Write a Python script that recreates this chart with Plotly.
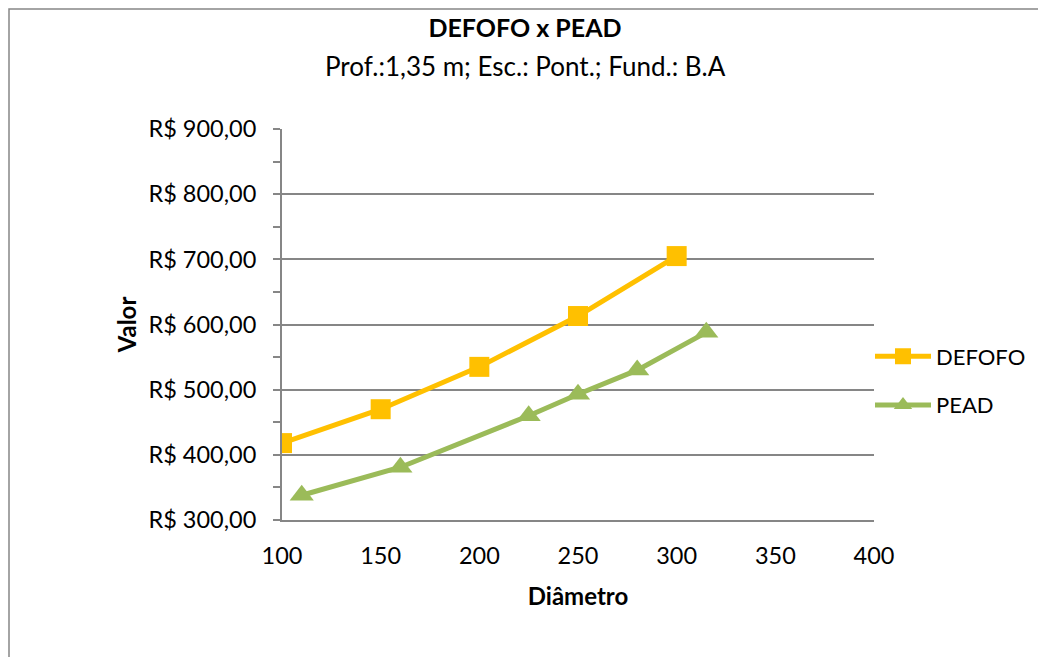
import plotly.graph_objects as go

defofo_x = [100, 150, 200, 250, 300]
defofo_y = [418, 470, 535, 613, 705]
pead_x = [110, 160, 225, 250, 280, 315]
pead_y = [338, 381, 460, 493, 530, 588]

y_tickvals = [300, 400, 500, 600, 700, 800, 900]
y_ticktext = ["R$ 300,00", "R$ 400,00", "R$ 500,00", "R$ 600,00",
              "R$ 700,00", "R$ 800,00", "R$ 900,00"]
x_tickvals = [100, 150, 200, 250, 300, 350, 400]

title_text = "DEFOFO x PEAD"
subtitle_text = "Prof.:1,35 m; Esc.: Pont.; Fund.: B.A"

FONT = "Lato"
GRAY = "#868686"
OFF = 8  # page body offset

fig = go.Figure()
fig.add_trace(go.Scatter(
    x=defofo_x, y=defofo_y, name="DEFOFO", mode="lines+markers",
    line=dict(color="#FFC000", width=5),
    marker=dict(symbol="square", size=20, color="#FFC000"),
    legendgroup="a",
))
fig.add_trace(go.Scatter(
    x=pead_x, y=pead_y, name="PEAD", mode="lines+markers",
    line=dict(color="#9BBB59", width=5),
    marker=dict(symbol="triangle-up", size=21, color="#9BBB59"),
    legendgroup="b",
))

W, H = 1038, 649
L, T = 282 - OFF, 129 - OFF
R = W - (874 - OFF)
B = H - (520 - OFF)
pw = W - L - R
ph = H - T - B

def px_x(p):
    return (p - OFF - L) / pw

def px_y(p):
    return (H - B - (p - OFF)) / ph

fig.update_layout(
    width=W, height=H,
    margin=dict(l=L, r=R, t=T, b=B, autoexpand=False),
    paper_bgcolor="white", plot_bgcolor="white",
    font=dict(family=FONT, size=23.5, color="black"),
    title=dict(
        text="<b>" + title_text + "</b>",
        font=dict(size=25),
        x=(525 - OFF) / W, xanchor="center", xref="container",
        y=1 - (28 - OFF) / H, yanchor="middle", yref="container",
    ),
    annotations=[dict(
        text=subtitle_text, xref="paper", yref="paper",
        x=px_x(525), xanchor="center", y=px_y(66), yanchor="middle",
        showarrow=False, font=dict(size=26),
    )],
    xaxis=dict(
        range=[100, 400], tickvals=x_tickvals, ticks="", showgrid=False,
        showline=True, linecolor=GRAY, linewidth=2, zeroline=False,
        ticklabelstandoff=14,
        title=dict(text="<b>Diâmetro</b>", font=dict(size=24), standoff=20),
        automargin=False,
    ),
    yaxis=dict(
        range=[300, 900], tickvals=y_tickvals, ticktext=y_ticktext,
        ticks="outside", ticklen=7, tickcolor=GRAY, tickwidth=2,
        showgrid=True, gridcolor=GRAY, gridwidth=1.5,
        showline=True, linecolor=GRAY, linewidth=2, zeroline=False,
        ticklabelstandoff=12,
        minor=dict(tickvals=[350, 450, 550, 650, 750, 850], ticks="outside",
                   ticklen=7, tickcolor=GRAY, tickwidth=2, showgrid=False),
        title=dict(text="<b>Valor</b>", font=dict(size=24), standoff=5),
        automargin=False,
    ),
    legend=dict(
        x=px_x(870), xanchor="left", y=px_y(381), yanchor="middle",
        font=dict(size=22), tracegroupgap=17, bgcolor="rgba(0,0,0,0)",
        itemwidth=56,
    ),
    shapes=[dict(
        type="rect", xref="paper", yref="paper",
        x0=px_x(9), x1=px_x(1070), y0=px_y(9), y1=px_y(680),
        line=dict(color=GRAY, width=1.5), fillcolor="rgba(0,0,0,0)", layer="below",
    )],
)

fig.write_html("out.html")
